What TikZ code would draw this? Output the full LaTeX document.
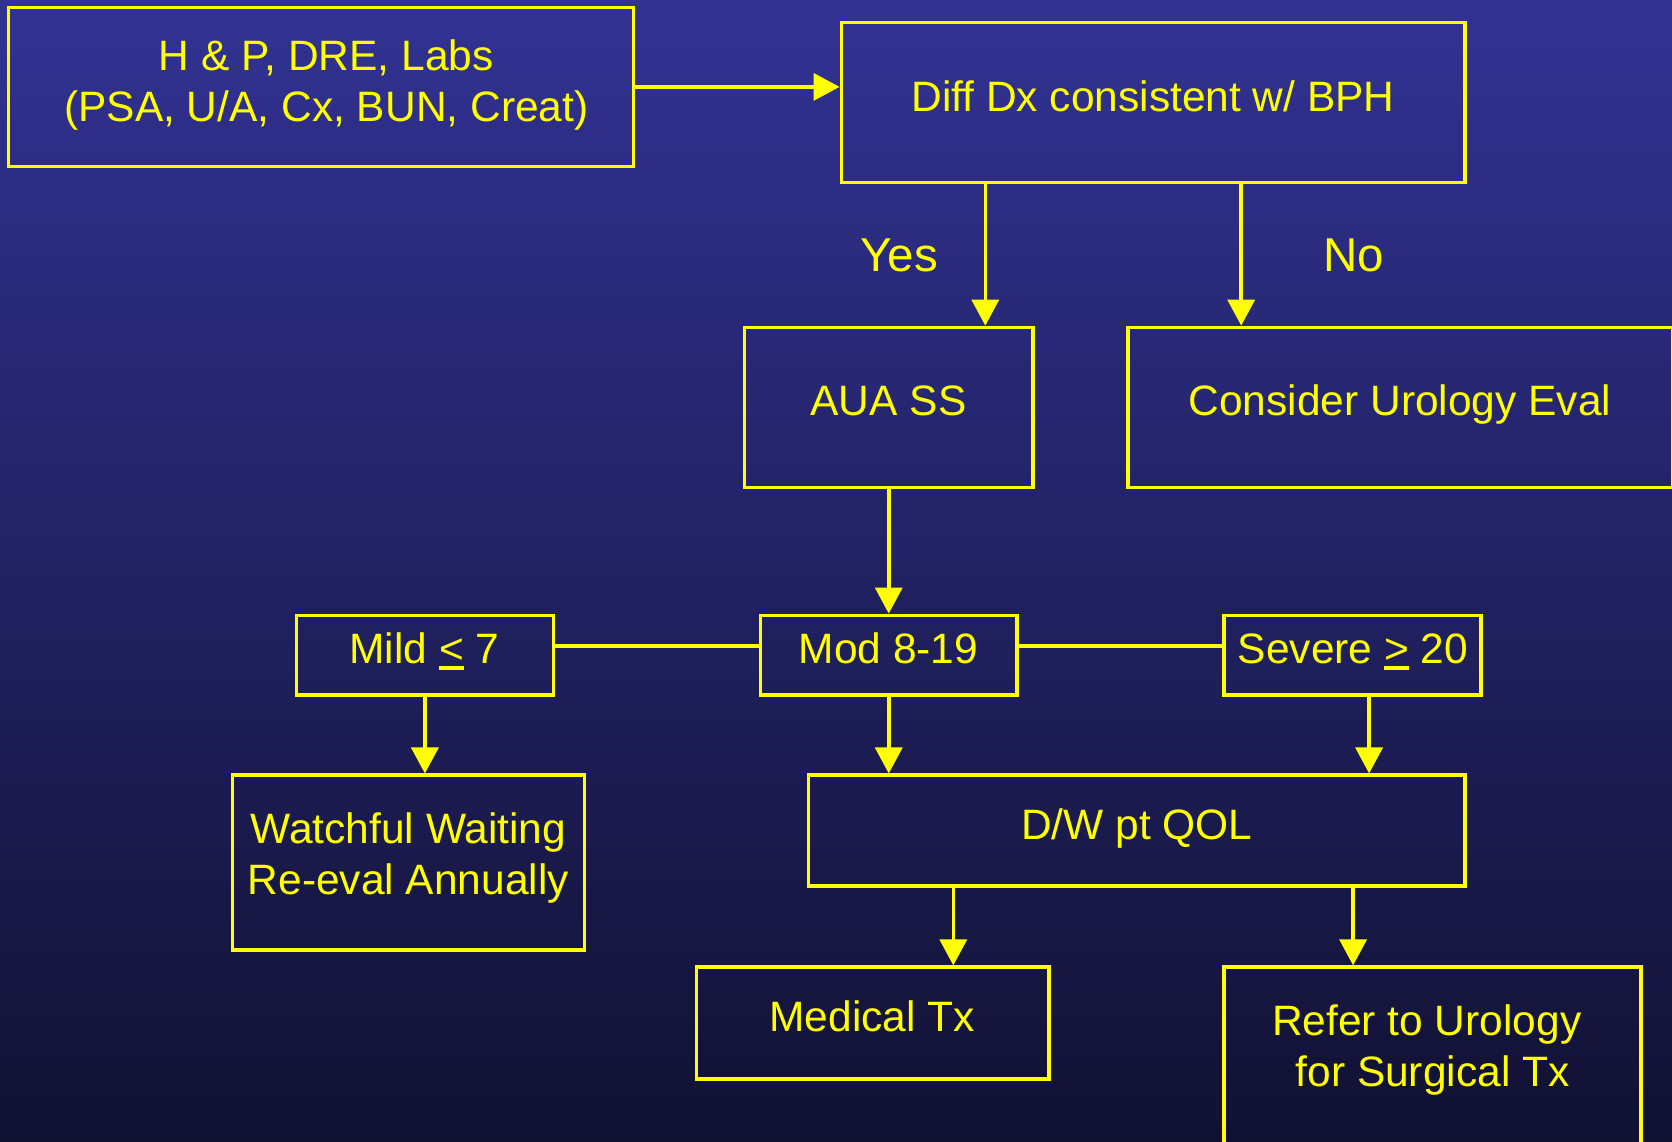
\documentclass[tikz,border=0pt]{standalone}
\usepackage{fontspec}
\setmainfont{Liberation Sans}
\usetikzlibrary{arrows.meta}
\definecolor{bgtop}{RGB}{50,50,148}
\definecolor{bgbot}{RGB}{17,17,50}
\definecolor{ylw}{RGB}{255,255,0}
\newcommand\ulchar[1]{\setbox0\hbox{#1}\rlap{\rule[-7.4pt]{\wd0}{4pt}}\box0\relax}
\tikzset{
  box/.style={draw=ylw, line width=3.5pt, inner sep=0pt, rectangle},
  txt/.style={text=ylw, font=\fontsize{42.5}{50.5}\selectfont, inner sep=0pt, text height=30.4pt, text depth=0pt, anchor=center},
  mtxt/.style={text=ylw, font=\fontsize{42.5}{50.5}\selectfont, inner sep=0pt, align=center},
  lbl/.style={text=ylw, font=\fontsize{47.5}{56}\selectfont, inner sep=0pt, text height=34pt, text depth=0pt},
  conn/.style={draw=ylw, line width=3.5pt},
  arr/.style={conn, -{Triangle[length=26pt,width=27pt]}},
}
\begin{document}
\begin{tikzpicture}[x=1pt,y=-1pt]
\useasboundingbox (0,0) rectangle (1672,1141);
\shade[top color=bgtop, bottom color=bgbot] (-2,-2) rectangle (1674,1143);
\begin{scope}
\clip (0,0) rectangle (1672,1141);
% boxes
\node[box, minimum width=624.9pt, minimum height=158.8pt] (hp) at (321,86.9) {};
\node[box, minimum width=623.8pt, minimum height=159.9pt] (dx) at (1153.2,102.35) {};
\node[box, minimum width=288.9pt, minimum height=159.9pt] (aua) at (888.75,407.35) {};
\node[box, minimum width=544.4pt, minimum height=159.9pt] (cons) at (1400.3,407.35) {};
\node[box, minimum width=257pt, minimum height=79.9pt] (mild) at (424.9,655.25) {};
\node[box, minimum width=256.9pt, minimum height=79.9pt] (mod) at (888.75,655.25) {};
\node[box, minimum width=257pt, minimum height=79.9pt] (sev) at (1352.6,655.25) {};
\node[box, minimum width=351.8pt, minimum height=174.9pt] (watch) at (408.4,862.65) {};
\node[box, minimum width=656.8pt, minimum height=110.9pt] (dw) at (1136.7,830.65) {};
\node[box, minimum width=352.9pt, minimum height=112pt] (med) at (872.75,1023.1) {};
\node[box, minimum width=416.9pt, minimum height=200pt] (ref) at (1432.55,1067.1) {};
% texts
\node[mtxt] (hpt) at (326.3,85.1) {H \& P, DRE, Labs\\(PSA, U/A, Cx, BUN, Creat)};
\node[txt] (dxt) at (1153,96) {Diff Dx consistent w/ BPH};
\node[txt] (auat) at (888.5,400) {AUA SS};
\node[txt] (const) at (1400,400) {Consider Urology Eval};
\node[txt] (mildt) at (424.4,647.8) {Mild \ulchar{<} 7};
\node[txt] (modt) at (888.5,647.8) {Mod 8-19};
\node[txt] (sevt) at (1353,647.8) {Severe \ulchar{>} 20};
\node[mtxt] (watcht) at (408.4,858.2) {Watchful Waiting\\Re-eval Annually};
\node[txt] (dwt) at (1136.7,824.3) {D/W pt QOL};
\node[txt] (medt) at (872.2,1016.2) {Medical Tx};
\node[mtxt] (reft) at (1426.7,1050.2) {Refer to Urology\\\mbox{}\ for Surgical Tx};
\node[lbl] (yes) at (899,254) {Yes};
\node[lbl] (no) at (1354,254) {No};
% helper coordinates
\coordinate (xyes) at (985.3,0);
\coordinate (xno) at (1241.2,0);
\coordinate (hy) at (0,646.2);
\coordinate (xsev) at (1369.1,0);
\coordinate (xmed) at (953.3,0);
\coordinate (xref) at (1353.1,0);
% connectors
\draw[arr] (hp.east) -- (hp.east -| dx.west);
\draw[arr] (dx.south -| xyes) -- (aua.north -| xyes);
\draw[arr] (dx.south -| xno) -- (cons.north -| xno);
\draw[arr] (aua.south) -- (mod.north);
\draw[conn] (mild.east |- hy) -- (mod.west |- hy);
\draw[conn] (mod.east |- hy) -- (sev.west |- hy);
\draw[arr] (mild.south) -- (mild.south |- watch.north);
\draw[arr] (mod.south) -- (mod.south |- dw.north);
\draw[arr] (sev.south -| xsev) -- (dw.north -| xsev);
\draw[arr] (dw.south -| xmed) -- (med.north -| xmed);
\draw[arr] (dw.south -| xref) -- (ref.north -| xref);
\end{scope}
\end{tikzpicture}
\end{document}
